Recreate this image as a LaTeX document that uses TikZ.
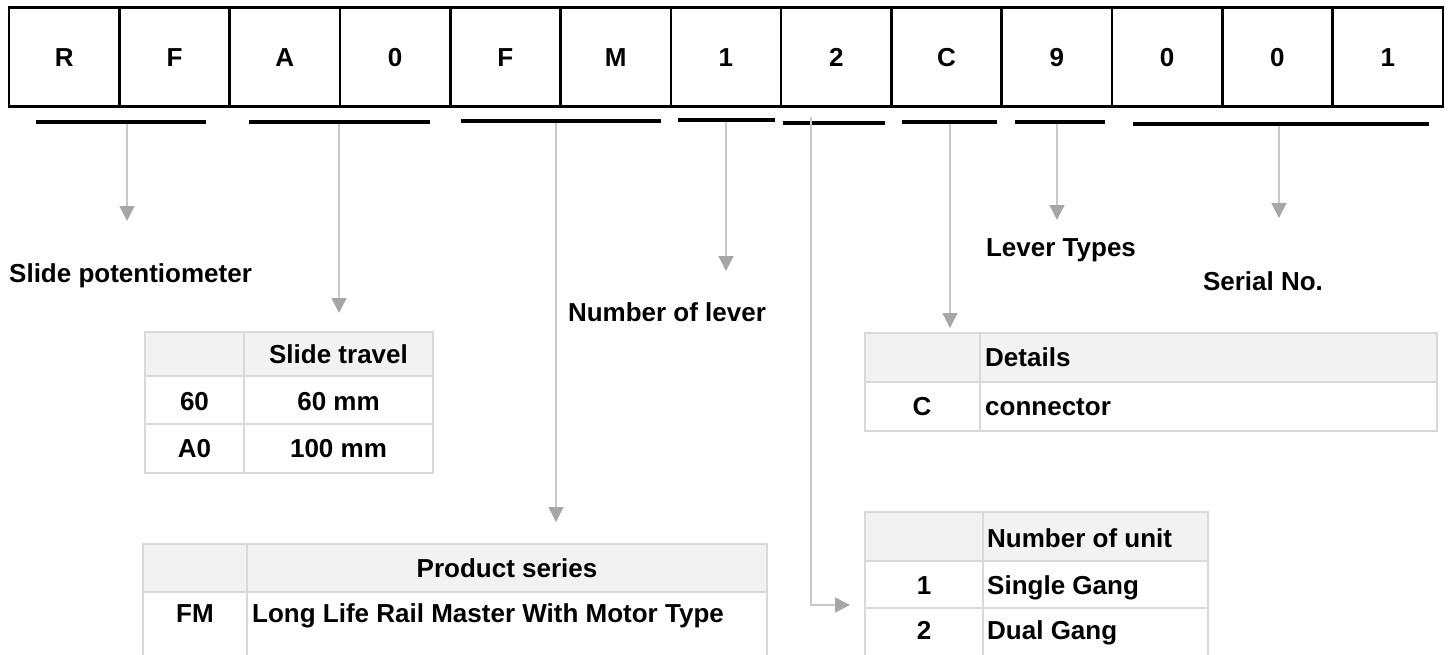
\documentclass[tikz,border=0pt]{standalone}
\usepackage{fontspec}
\setmainfont{Liberation Sans}
\usetikzlibrary{arrows.meta}
\definecolor{linegray}{HTML}{C8C8C8}
\definecolor{tipgray}{HTML}{A6A6A6}
\definecolor{tabline}{HTML}{D9D9D9}
\definecolor{headfill}{HTML}{F2F2F2}
\begin{document}
\begin{tikzpicture}[x=1pt,y=-1pt,
  txt/.style={font=\fontsize{26}{30}\selectfont\bfseries, inner sep=0pt, text height=18.6pt, text depth=0pt},
  codecell/.style={draw=black, line width=2.6pt, minimum width=110.3pt, minimum height=99pt, inner sep=0pt, text height=18.6pt, text depth=0pt, font=\fontsize{26}{30}\selectfont\bfseries},
  uline/.style={draw=black, line width=3.2pt},
  conn/.style={draw=linegray, line width=1.4pt, -{Triangle[length=15pt,width=15pt,color=tipgray]}},
  tline/.style={draw=tabline, line width=1.5pt},
  thead/.style={fill=headfill}]
\useasboundingbox (0,0) rectangle (1450,655);

% code cells
\foreach \ch [count=\i] in {R,F,A,0,F,M,1,2,C,9,0,0,1}{
  \node[codecell] (c\i) at ({9+110.3*(\i-0.5)},57) {\ch};
}

% underlines
\draw[uline] (36,122) -- (206,122);
\draw[uline] (249,122) -- (430,122);
\draw[uline] (461,121) -- (661,121);
\draw[uline] (678,120) -- (775,120);
\draw[uline] (783,123) -- (885,123);
\draw[uline] (902,122) -- (997,122);
\draw[uline] (1015,122) -- (1105,122);
\draw[uline] (1133,124) -- (1429,124);

% connector coordinates
\coordinate (u1) at (127,124);  \coordinate (t1) at (127,221);
\coordinate (u2) at (339,124);  \coordinate (t2) at (339,313);
\coordinate (u3) at (556,123);  \coordinate (t3) at (556,522);
\coordinate (u4) at (726,122);  \coordinate (t4) at (726,271);
\coordinate (u5) at (811,117);  \coordinate (t5) at (850,605);
\coordinate (u6) at (950,124);  \coordinate (t6) at (950,328);
\coordinate (u7) at (1057,124); \coordinate (t7) at (1057,220);
\coordinate (u8) at (1279,126); \coordinate (t8) at (1279,218);

% labels
\node[txt, anchor=west] (lslide) at (9,273) {Slide potentiometer};
\node[txt] (llever) at (667,312) {Number of lever};
\node[txt] (ltypes) at (1061,247) {Lever Types};
\node[txt] (lserial) at (1263,281) {Serial No.};

% connectors
\draw[conn] (u1) -- (t1);
\draw[conn] (u2) -- (t2);
\draw[conn] (u3) -- (t3);
\draw[conn] (u4) -- (t4);
\draw[conn] (u5) |- (t5);
\draw[conn] (u6) -- (t6);
\draw[conn] (u7) -- (t7);
\draw[conn] (u8) -- (t8);

% Slide travel table
\fill[thead] (145,332) rectangle (433,376);
\draw[tline] (145,332) rectangle (433,473);
\draw[tline] (145,376) -- (433,376);
\draw[tline] (145,424) -- (433,424);
\draw[tline] (244,332) -- (244,473);
\node[txt] (st0) at (338.5,354) {Slide travel};
\node[txt] (st1a) at (194.5,401) {60};
\node[txt] (st1b) at (338.5,401) {60 mm};
\node[txt] (st2a) at (194.5,448) {A0};
\node[txt] (st2b) at (338.5,448) {100 mm};

% Product series table
\fill[thead] (143,544) rectangle (767,592);
\draw[tline] (143,655) -- (143,544) -- (767,544) -- (767,655);
\draw[tline] (143,592) -- (767,592);
\draw[tline] (247,544) -- (247,655);
\node[txt] (ps0) at (507,568) {Product series};
\node[txt] (ps1a) at (195,613) {FM};
\node[txt, anchor=west] (ps1b) at (252,613) {Long Life Rail Master With Motor Type};

% Number of unit table
\fill[thead] (865,512) rectangle (1208,561);
\draw[tline] (865,655) -- (865,512) -- (1208,512) -- (1208,655);
\draw[tline] (865,561) -- (1208,561);
\draw[tline] (865,608) -- (1208,608);
\draw[tline] (983,512) -- (983,655);
\node[txt, anchor=west] (nu0) at (987,538) {Number of unit};
\node[txt] (nu1a) at (924,585) {1};
\node[txt, anchor=west] (nu1b) at (987,585) {Single Gang};
\node[txt] (nu2a) at (924,630) {2};
\node[txt, anchor=west] (nu2b) at (987,630) {Dual Gang};

% Details table
\fill[thead] (865,333) rectangle (1437,382);
\draw[tline] (865,333) rectangle (1437,431);
\draw[tline] (865,382) -- (1437,382);
\draw[tline] (980,333) -- (980,431);
\node[txt, anchor=west] (dt0) at (985,357) {Details};
\node[txt] (dt1a) at (922,406) {C};
\node[txt, anchor=west] (dt1b) at (985,406) {connector};
\end{tikzpicture}
\end{document}
